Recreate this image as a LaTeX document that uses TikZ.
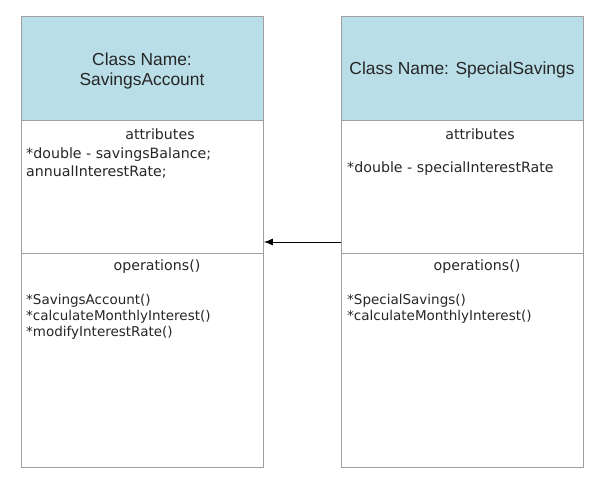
\documentclass[tikz,border=0pt]{standalone}
\usepackage{fontspec}
\setmainfont{Liberation Sans}
\newfontfamily\bodyfont{DejaVu Sans}
\usepackage{tikz}
\usetikzlibrary{arrows.meta}
\definecolor{headblue}{RGB}{185,222,232}
\definecolor{boxgray}{RGB}{160,160,160}
\tikzstyle{every node}=[text=black!85, inner sep=0pt]
\tikzstyle{section}=[draw=boxgray, line width=0.9pt, anchor=north west, minimum width=242pt]
\tikzstyle{head}=[section, fill=headblue, minimum height=104pt]
\tikzstyle{title}=[font=\fontsize{17.4}{20}\selectfont, align=center]
\tikzstyle{label}=[font=\bodyfont\fontsize{14.2}{18}\selectfont]
\tikzstyle{member}=[font=\bodyfont\fontsize{13.5}{16}\selectfont, anchor=west, align=left]

\begin{document}
\begin{tikzpicture}[x=1pt, y=-1pt]
        \useasboundingbox (0, 0) rectangle (603, 483);

        % SavingsAccount
        \node [head] (sahead) at (21, 16) {};
        \node [section, minimum height=133pt] (saattr) at (21, 120) {};
        \node [section, minimum height=214pt] (saops) at (21, 253) {};

        \node [title] (saname) at (142, 71) {Class Name:\\SavingsAccount};
        \node [label] (saattrlabel) at (160, 134) {attributes};
        \node [member, font=\bodyfont\fontsize{14.2}{18}\selectfont] (saattrlist) at (26, 163) {*double - savingsBalance;\\annualInterestRate;};
        \node [label] (saopslabel) at (157, 267) {operations()};
        \node [member] (saopslist) at (26, 317) {*SavingsAccount()\\*calculateMonthlyInterest()\\*modifyInterestRate()};

        % SpecialSavings
        \node [head] (sphead) at (341, 16) {};
        \node [section, minimum height=133pt] (spattr) at (341, 120) {};
        \node [section, minimum height=214pt] (spops) at (341, 253) {};

        \node [title] (spname) at (462, 70) {Class Name: SpecialSavings};
        \node [label] (spattrlabel) at (480, 134) {attributes};
        \node [member, font=\bodyfont\fontsize{14.2}{18}\selectfont] (spattrlist) at (347, 169) {*double - specialInterestRate};
        \node [label] (spopslabel) at (477, 267) {operations()};
        \node [member] (spopslist) at (347, 309) {*SpecialSavings()\\*calculateMonthlyInterest()};

        \coordinate (inherit) at (341, 242);
        \draw [-{Latex[length=9pt, width=7pt]}, line width=0.9pt] (inherit) -- (inherit -| saattr.east);
    \end{tikzpicture}
\end{document}
